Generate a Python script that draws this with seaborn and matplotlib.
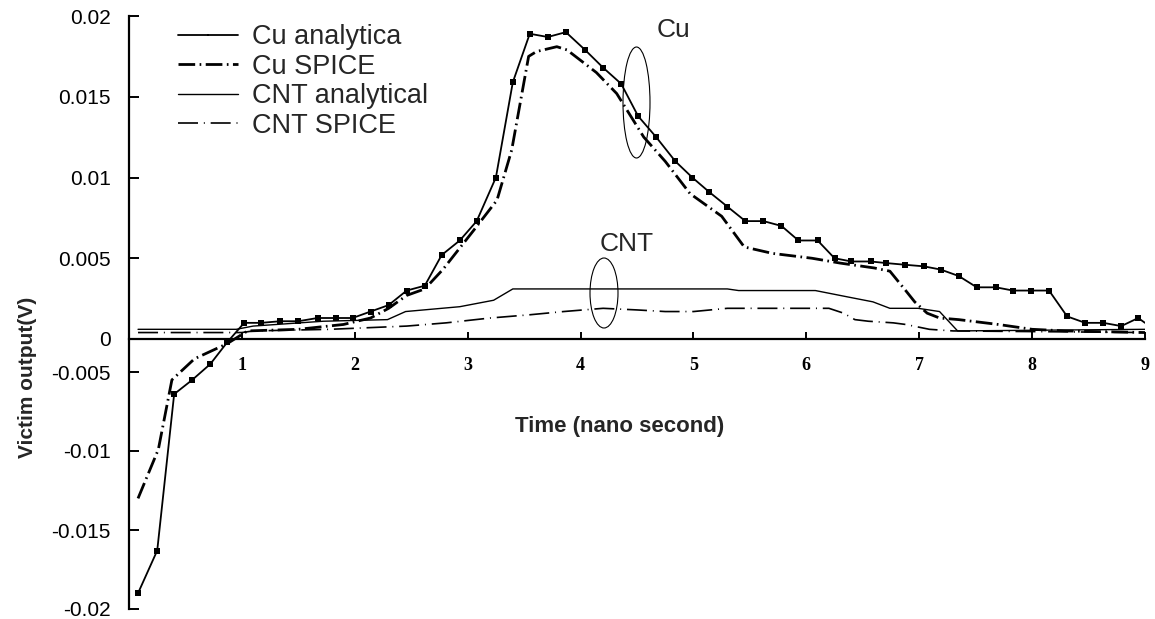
import numpy as np
import pandas as pd
import matplotlib
matplotlib.use("Agg")
import matplotlib.pyplot as plt
from matplotlib.patches import Ellipse
from matplotlib.ticker import FixedLocator, FixedFormatter
import seaborn as sns

# ---------------- data ----------------
cu_an_t = [0.08, 0.25, 0.40, 0.56, 0.72, 0.87, 1.02, 1.17, 1.34, 1.50, 1.67, 1.83, 1.98,
           2.14, 2.30, 2.46, 2.62, 2.77, 2.93, 3.08, 3.25, 3.40, 3.55, 3.71, 3.87,
           4.04, 4.20, 4.36, 4.51, 4.67, 4.84, 4.99, 5.14, 5.30, 5.46, 5.62, 5.78, 5.93,
           6.10, 6.25, 6.40, 6.57, 6.71, 6.87, 7.04, 7.19, 7.35, 7.51, 7.68, 7.83, 7.99,
           8.15, 8.31, 8.47, 8.63, 8.79, 8.94, 9.00]
cu_an_v = [-0.0190, -0.0163, -0.0064, -0.0055, -0.0038, -0.0005, 0.0010, 0.0010, 0.0011, 0.0011, 0.0013, 0.0013, 0.0013,
           0.0017, 0.0021, 0.0030, 0.0033, 0.0052, 0.0061, 0.0073, 0.0100, 0.0159, 0.0189, 0.0187, 0.0190,
           0.0179, 0.0168, 0.0158, 0.0138, 0.0125, 0.0110, 0.0100, 0.0091, 0.0082, 0.0073, 0.0073, 0.0070, 0.0061,
           0.0061, 0.0050, 0.0048, 0.0048, 0.0047, 0.0046, 0.0045, 0.0043, 0.0039, 0.0032, 0.0032, 0.0030, 0.0030,
           0.0030, 0.0014, 0.0010, 0.0010, 0.0008, 0.0013, 0.0010]

cu_sp_t = [0.08, 0.26, 0.38, 0.58, 0.87, 1.05, 1.50, 1.90, 2.14, 2.30, 2.46, 2.62,
           2.78, 3.05, 3.26, 3.39, 3.54, 3.61, 3.79, 3.88, 4.14, 4.32, 4.56, 4.75,
           4.97, 5.25, 5.45, 5.70, 6.05, 6.30, 6.60, 6.74, 6.88, 6.96, 7.07, 7.18,
           7.35, 7.70, 8.00, 8.30, 9.00]
cu_sp_v = [-0.0130, -0.0099, -0.0055, -0.0030, -0.0007, 0.0005, 0.0006, 0.0009, 0.0013, 0.0019, 0.0027, 0.0031,
           0.0043, 0.0067, 0.0086, 0.0117, 0.0175, 0.0178, 0.0181, 0.0179, 0.0165, 0.0152, 0.0125, 0.0110,
           0.0090, 0.0076, 0.0057, 0.0053, 0.0050, 0.0047, 0.0044, 0.0042, 0.0030, 0.0023, 0.0016, 0.0013,
           0.0012, 0.0009, 0.0006, 0.0005, 0.0004]

cnt_an_t = [0.08, 0.95, 1.10, 1.72, 2.29, 2.45, 2.93, 3.23, 3.40, 5.30, 5.40, 6.08, 6.37,
            6.59, 6.74, 6.99, 7.18, 7.34, 9.00]
cnt_an_v = [0.0006, 0.0006, 0.0008, 0.0011, 0.0012, 0.0017, 0.0020, 0.0024, 0.0031, 0.0031, 0.0030, 0.0030, 0.0026,
            0.0023, 0.0019, 0.0019, 0.0017, 0.0005, 0.0006]

cnt_sp_t = [0.08, 1.00, 1.10, 1.78, 2.46, 2.81, 3.20, 3.55, 3.85, 4.20, 4.50, 4.75, 5.00,
            5.30, 6.20, 6.33, 6.43, 6.55, 6.77, 6.88, 7.09, 7.30, 9.00]
cnt_sp_v = [0.0004, 0.0004, 0.0005, 0.0006, 0.0008, 0.0010, 0.0013, 0.0015, 0.0017, 0.0019, 0.0018, 0.0017, 0.0017,
            0.0019, 0.0019, 0.0016, 0.0012, 0.0011, 0.0010, 0.0009, 0.0006, 0.0005, 0.0004]

series_labels = ["Cu analytica", "Cu SPICE", "CNT analytical", "CNT SPICE"]
x_ticks = [1, 2, 3, 4, 5, 6, 7, 8, 9]
y_ticks = [-0.02, -0.015, -0.01, -0.005, 0, 0.005, 0.01, 0.015, 0.02]
y_tick_labels = ["-0.02", "-0.015", "-0.01", "-0.005", "0", "0.005", "0.01", "0.015", "0.02"]

# ---------------- style ----------------
sns.set_style("white")
plt.rcParams['font.family'] = ['Liberation Sans', 'DejaVu Sans']

W, H = 1155, 619
fig = plt.figure(figsize=(W / 100, H / 100), dpi=100)
ax = fig.add_axes([129 / W, 1 - 609 / H, (1145 - 129) / W, (609 - 16) / H])

# the reference's y axis is compressed between 0 and -0.005
K1 = 33 / 80.75
K2 = 79 / 80.75
ZB = -0.005 * K1


def fwd(y):
    y = np.asarray(y, dtype=float)
    return np.where(y >= 0, y, np.where(y >= -0.005, y * K1, ZB + (y + 0.005) * K2))


def inv(z):
    z = np.asarray(z, dtype=float)
    return np.where(z >= 0, z, np.where(z >= ZB, z / K1, (z - ZB) / K2 - 0.005))


ax.set_yscale('function', functions=(fwd, inv))

df_cu_an = pd.DataFrame({"t": cu_an_t, "v": cu_an_v})
df_cu_sp = pd.DataFrame({"t": cu_sp_t, "v": cu_sp_v})
df_cnt_an = pd.DataFrame({"t": cnt_an_t, "v": cnt_an_v})
df_cnt_sp = pd.DataFrame({"t": cnt_sp_t, "v": cnt_sp_v})

sns.lineplot(data=df_cu_an, x="t", y="v", ax=ax, color="black", linewidth=1.3,
             marker="s", markersize=5, markeredgewidth=0, markevery=list(range(len(cu_an_t) - 1)),
             label=series_labels[0], errorbar=None, sort=False)
sns.lineplot(data=df_cu_sp, x="t", y="v", ax=ax, color="black", linewidth=2.0,
             linestyle=(0, (6, 1.6, 0.6, 1.6)),
             label=series_labels[1], errorbar=None, sort=False)
sns.lineplot(data=df_cnt_an, x="t", y="v", ax=ax, color="black", linewidth=1.0,
             label=series_labels[2], errorbar=None, sort=False)
sns.lineplot(data=df_cnt_sp, x="t", y="v", ax=ax, color="black", linewidth=1.2,
             linestyle=(0, (12, 3.5, 0.6, 3.5)),
             label=series_labels[3], errorbar=None, sort=False)

ax.set_xlim(0, 9)
ax.set_ylim(-0.02, 0.02)

# axes / spines
for s in ["top", "right"]:
    ax.spines[s].set_visible(False)
ax.spines["bottom"].set_position(("data", 0))
ax.spines["bottom"].set_linewidth(1.6)
ax.spines["left"].set_linewidth(1.6)
ax.spines["bottom"].set_color("black")
ax.spines["left"].set_color("black")

ax.xaxis.set_major_locator(FixedLocator(x_ticks))
ax.xaxis.set_major_formatter(FixedFormatter([str(v) for v in x_ticks]))
ax.yaxis.set_major_locator(FixedLocator(y_ticks))
ax.yaxis.set_major_formatter(FixedFormatter(y_tick_labels))
ax.yaxis.set_minor_locator(FixedLocator([]))
ax.xaxis.set_minor_locator(FixedLocator([]))

ax.tick_params(axis="x", which="major", bottom=True, direction="in", length=5, width=1.4,
               pad=13, colors="black")
ax.tick_params(axis="y", which="major", left=True, direction="in", length=7, width=1.4,
               pad=13, colors="black", labelsize=15)
for lab in ax.get_xticklabels():
    lab.set_fontfamily(["Liberation Serif", "DejaVu Serif"])
    lab.set_fontweight("bold")
    lab.set_fontsize(13)
ax.grid(False)

ax.set_xlabel("Time (nano second)", fontsize=16, fontweight="bold")
ax.xaxis.set_label_coords(620 / W, 1 - 416 / H, transform=fig.transFigure)
ax.set_ylabel("Victim output(V)", fontsize=15, fontweight="bold")
ax.yaxis.set_label_coords(37 / W, 1 - 377 / H, transform=fig.transFigure)

# legend
leg = ax.legend(loc="upper left", bbox_to_anchor=(178 / W, 1 - 24 / H),
                bbox_transform=fig.transFigure, frameon=False, fontsize=19.5,
                handlelength=2.2, handletextpad=0.55, labelspacing=0.13,
                borderpad=0, borderaxespad=0)
for h in leg.get_lines():
    h.set_markersize(1.5)

# annotations
fig.text(673 / W, 1 - 30 / H, "Cu", fontsize=19, ha="center", va="center")
fig.text(627 / W, 1 - 244 / H, "CNT", fontsize=19, ha="center", va="center")
fig.add_artist(Ellipse((636.5 / W, 1 - 102.5 / H), 27 / W, 111 / H, transform=fig.transFigure,
                       fill=False, edgecolor="black", linewidth=0.8))
fig.add_artist(Ellipse((604 / W, 1 - 293 / H), 28 / W, 70 / H, transform=fig.transFigure,
                       fill=False, edgecolor="black", linewidth=0.8))

fig.savefig("out.png", dpi=100)
